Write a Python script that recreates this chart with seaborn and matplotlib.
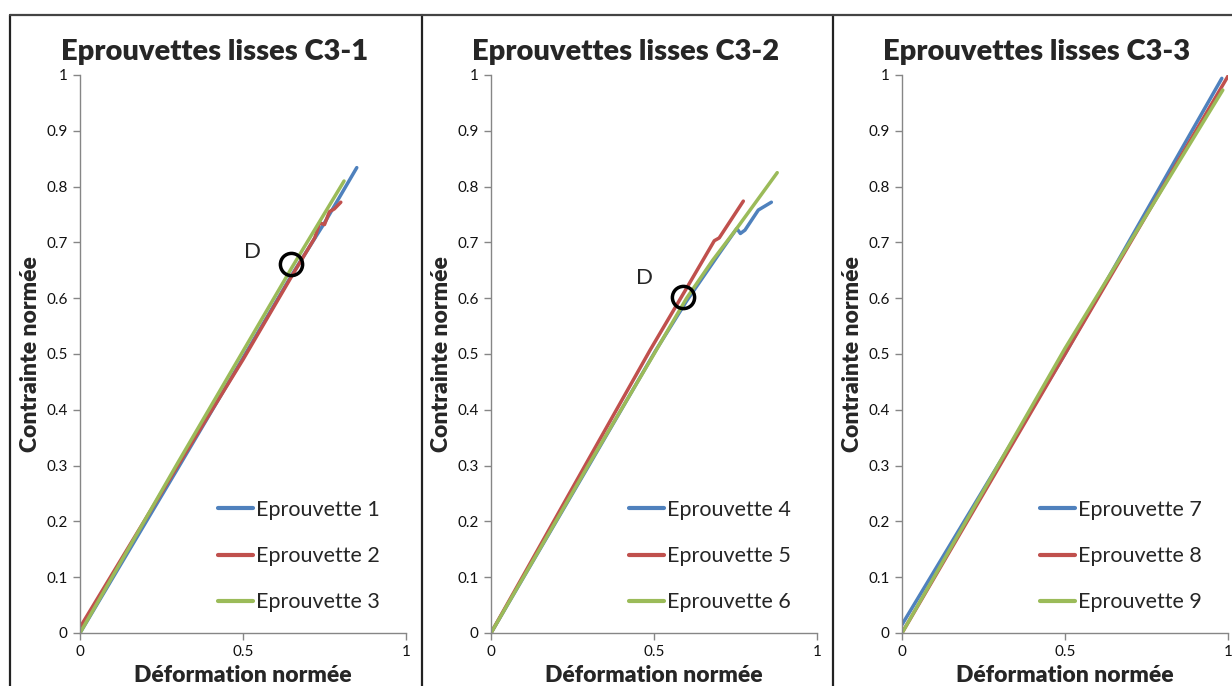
import pandas as pd
import seaborn as sns
import matplotlib.pyplot as plt
from matplotlib.lines import Line2D

# valeurs (déformation / contrainte normées)
ep1_x = [0.0, 0.3, 0.5, 0.65, 0.75, 0.849]
ep1_y = [0.0, 0.295, 0.493, 0.642, 0.735, 0.834]
ep2_x = [0.0, 0.3, 0.5, 0.65, 0.72, 0.735, 0.75, 0.765, 0.78, 0.80]
ep2_y = [0.01, 0.3, 0.49, 0.64, 0.708, 0.735, 0.732, 0.755, 0.76, 0.772]
ep3_x = [0.0, 0.3, 0.5, 0.65, 0.81]
ep3_y = [0.0, 0.305, 0.505, 0.655, 0.81]

ep4_x = [0.0, 0.3, 0.506, 0.6, 0.7, 0.754, 0.765, 0.779, 0.82, 0.86]
ep4_y = [0.0, 0.3, 0.507, 0.595, 0.68, 0.725, 0.716, 0.722, 0.758, 0.772]
ep5_x = [0.0, 0.3, 0.488, 0.6, 0.685, 0.70, 0.774]
ep5_y = [0.0, 0.312, 0.507, 0.618, 0.703, 0.708, 0.774]
ep6_x = [0.0, 0.3, 0.5, 0.6, 0.68, 0.75, 0.878]
ep6_y = [0.0, 0.302, 0.5, 0.6, 0.668, 0.722, 0.825]

ep7_x = [0.0, 0.5, 0.981]
ep7_y = [0.015, 0.5, 0.994]
ep8_x = [0.0, 0.5, 1.0]
ep8_y = [0.0, 0.5, 0.998]
ep9_x = [0.0, 0.5, 0.984]
ep9_y = [0.0, 0.51, 0.973]

titres = ["Eprouvettes lisses C3-1", "Eprouvettes lisses C3-2", "Eprouvettes lisses C3-3"]
noms = [["Eprouvette 1", "Eprouvette 2", "Eprouvette 3"],
        ["Eprouvette 4", "Eprouvette 5", "Eprouvette 6"],
        ["Eprouvette 7", "Eprouvette 8", "Eprouvette 9"]]
courbes = [[(ep1_x, ep1_y), (ep2_x, ep2_y), (ep3_x, ep3_y)],
           [(ep4_x, ep4_y), (ep5_x, ep5_y), (ep6_x, ep6_y)],
           [(ep7_x, ep7_y), (ep8_x, ep8_y), (ep9_x, ep9_y)]]
# point D (panneaux 1 et 2)
point_d = [(0.646, 0.661), (0.588, 0.603), None]
texte_d = [(0.53, 0.683), (0.472, 0.636), None]

couleurs = ["#4F81BD", "#C0504D", "#9BBB59"]

sns.set_style("white")
plt.rcParams['font.family'] = ['Lato', 'DejaVu Sans']

W, H = 1232, 686
fig = plt.figure(figsize=(W / 100, H / 100), dpi=100)

# cadres du tableau
for x0 in [10, 422, 833]:
    fig.lines.append(Line2D([x0 / W, x0 / W], [0, 1 - 15 / H], transform=fig.transFigure,
                            color="#222222", lw=1.6))
fig.lines.append(Line2D([10 / W, 1], [1 - 15 / H, 1 - 15 / H], transform=fig.transFigure,
                        color="#444444", lw=1.6))

lefts = [80, 491, 902]
for i in range(3):
    ax = fig.add_axes([lefts[i] / W, (H - 633) / H, 326 / W, 558 / H])
    rows = []
    for nom, (xs, ys) in zip(noms[i], courbes[i]):
        for a, b in zip(xs, ys):
            rows.append({"def": a, "cont": b, "ep": nom})
    df = pd.DataFrame(rows)
    sns.lineplot(data=df, x="def", y="cont", hue="ep", palette=couleurs, sort=False,
                 estimator=None, lw=2.5, ax=ax)

    if point_d[i] is not None:
        ax.plot(*point_d[i], marker="o", ms=16, mfc="none", mec="black", mew=2.5)
        ax.text(*texte_d[i], "D", fontsize=16, ha="center", va="center")

    ax.set_xlim(0, 1)
    ax.set_ylim(0, 1)
    ax.set_xticks([0, 0.5, 1])
    ax.set_xticklabels(["0", "0.5", "1"])
    ax.set_yticks([k / 10 for k in range(11)])
    ax.set_yticklabels(["0"] + ["0.%d" % k for k in range(1, 10)] + ["1"])
    ax.tick_params(axis="both", direction="out", length=5, width=1, color="#868686",
                   labelsize=11, labelcolor="#111111", pad=4, left=True, bottom=True)
    for s in ["top", "right"]:
        ax.spines[s].set_visible(False)
    for s in ["left", "bottom"]:
        ax.spines[s].set_color("#868686")
        ax.spines[s].set_linewidth(1)

    ax.set_title(titres[i], fontsize=21, fontweight="heavy", pad=11, x=0.414)
    ax.set_xlabel("Déformation normée", fontsize=16.5, fontweight="heavy", labelpad=4)
    ax.set_ylabel("Contrainte normée", fontsize=16.5, fontweight="heavy", labelpad=4)

    ax.legend(loc="upper left", bbox_to_anchor=(0.39, 0.258), frameon=False, fontsize=15.5,
              borderpad=0, labelspacing=1.22, handlelength=1.63, handletextpad=0.12)
    for l in ax.get_legend().get_lines():
        l.set_linewidth(3)

fig.savefig("out.png", dpi=100)
